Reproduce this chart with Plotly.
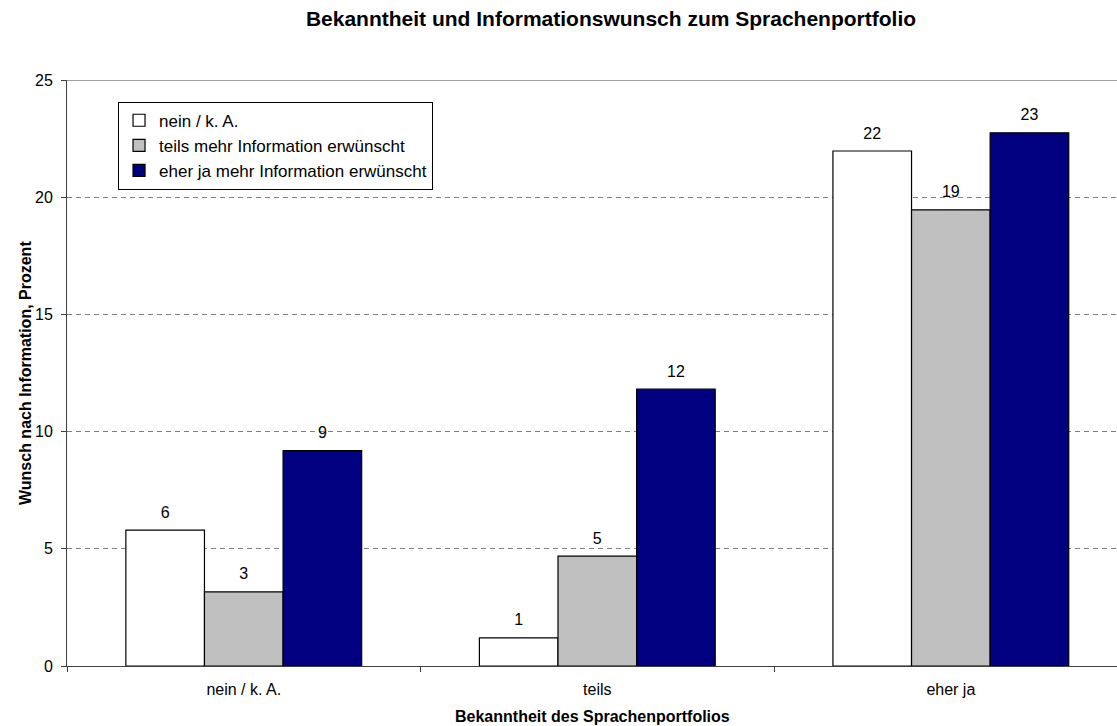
import plotly.graph_objects as go

categories = ["nein / k. A.", "teils", "eher ja"]
series_names = ["nein / k. A.", "teils mehr Information erwünscht", "eher ja mehr Information erwünscht"]
nein_values = [5.8, 1.2, 21.97]
teils_values = [3.16, 4.69, 19.46]
eherja_values = [9.19, 11.81, 22.75]
label_nein = ["6", "1", "22"]
label_teils = ["3", "5", "19"]
label_eherja = ["9", "12", "23"]
colors = ["#FFFFFF", "#C0C0C0", "#000080"]
y_ticks = [0, 5, 10, 15, 20, 25]

FONT = "Arial, Liberation Sans, sans-serif"

fig = go.Figure()
values = [nein_values, teils_values, eherja_values]
labels = [label_nein, label_teils, label_eherja]
for i, (name, vals) in enumerate(zip(series_names, values)):
    fig.add_trace(go.Bar(
        x=categories, y=vals, name=name,
        marker=dict(color=colors[i], line=dict(color="#000000", width=1.2)),
        hoverinfo="skip",
    ))
for i, (vals, labs) in enumerate(zip(values, labels)):
    fig.add_trace(go.Scatter(
        x=categories, y=vals, text=labs, mode="markers+text",
        textposition="top center",
        marker=dict(size=12, opacity=0),
        textfont=dict(size=16, color="#000000", family=FONT),
        showlegend=False, hoverinfo="skip", cliponaxis=False,
    ))

fig.update_layout(
    width=1117, height=726,
    margin=dict(l=67, r=0, t=80, b=60),
    paper_bgcolor="white", plot_bgcolor="white",
    barmode="group", bargap=0.333, bargroupgap=0,
    scattermode="group", scattergap=0.333,
    font=dict(family=FONT, size=16, color="#000000"),
    title=dict(text="<b>Bekanntheit und Informationswunsch zum Sprachenportfolio</b>",
               font=dict(size=21, family=FONT, color="#000000"),
               x=0.547, xanchor="center", y=0.975, yanchor="middle"),
    legend=dict(x=0.0486, y=0.963, xanchor="left", yanchor="top",
                bordercolor="#000000", borderwidth=1, bgcolor="white",
                font=dict(size=17, family=FONT, color="#000000"),
                tracegroupgap=0),
    showlegend=True,
)
fig.update_xaxes(
    range=[-0.5, 2.47], tickson="boundaries", ticks="outside", ticklen=5,
    tickcolor="#404040", showline=True, linecolor="#404040", linewidth=1,
    showgrid=False, tickfont=dict(size=16), ticklabelstandoff=9, automargin=False,
)
fig.update_yaxes(
    range=[0, 25], tickvals=y_ticks, ticks="outside", ticklen=5,
    tickcolor="#404040", showline=True, linecolor="#404040", linewidth=1,
    showgrid=True, gridcolor="#808080", griddash="5px,4px", gridwidth=1,
    zeroline=False, tickfont=dict(size=16), ticklabelstandoff=5, automargin=False,
)
fig.add_shape(type="line", xref="paper", yref="y", x0=0, x1=1, y0=25, y1=25,
              line=dict(color="#808080", width=1.5), layer="above")
fig.add_annotation(text="<b>Bekanntheit des Sprachenportfolios</b>", xref="paper", yref="paper",
                   x=0.5, y=-0.086, xanchor="center", yanchor="middle", showarrow=False,
                   font=dict(size=16, family=FONT, color="#000000"))
fig.add_annotation(text="<b>Wunsch nach Information, Prozent</b>", xref="paper", yref="paper",
                   x=-0.04, y=0.5, xanchor="center", yanchor="middle", textangle=-90,
                   showarrow=False, font=dict(size=16, family=FONT, color="#000000"))

fig.write_html("out.html", config={"displayModeBar": False},
               post_script="document.body.style.margin='0px';")
